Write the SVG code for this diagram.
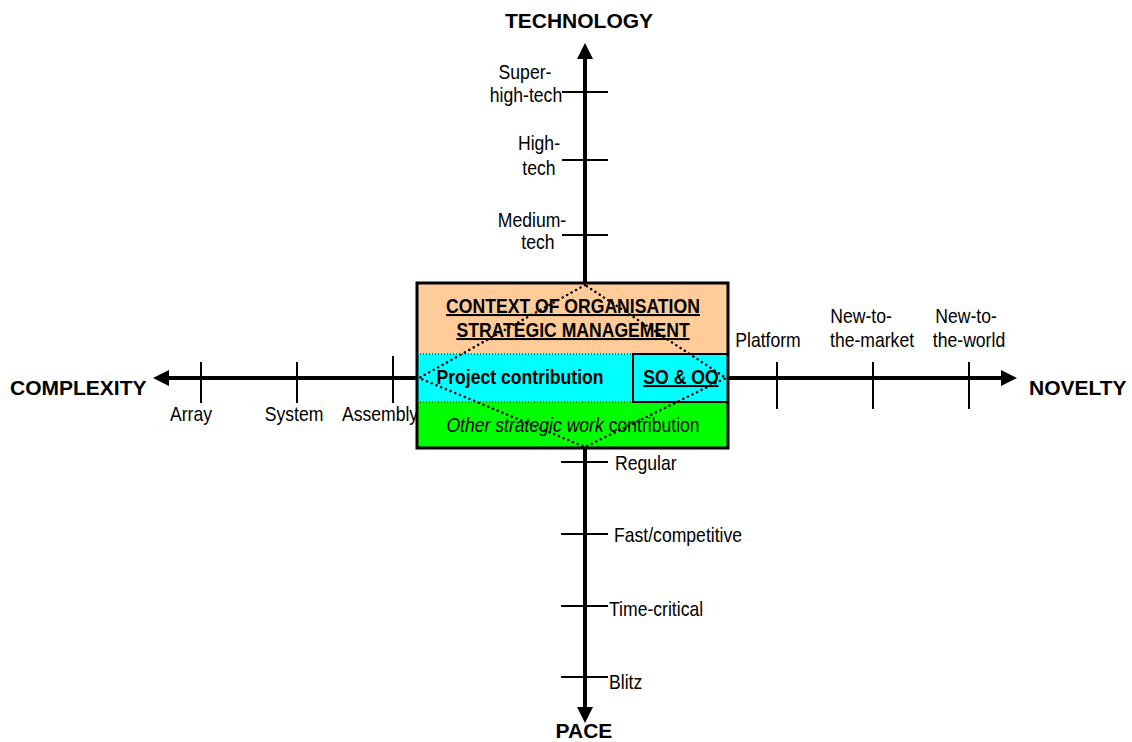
<svg xmlns="http://www.w3.org/2000/svg" width="1132" height="742" viewBox="0 0 1132 742">
<style>
text{font-family:"Liberation Sans",Arial,sans-serif;font-size:20px;fill:#000;transform-box:fill-box;transform-origin:0% 50%;transform:scaleX(0.88)}
.m{text-anchor:middle;transform-origin:50% 50%}
.b{font-weight:bold}
.ax{font-weight:bold;font-size:21px;transform:none}
.u{text-decoration:underline}
.axis{stroke:#000;stroke-width:4;fill:none}
.tick{stroke:#000;stroke-width:2;fill:none}
</style>
<defs>
<marker id="ah" viewBox="0 0 16 16" markerWidth="16" markerHeight="16" refX="6" refY="8" orient="auto" markerUnits="userSpaceOnUse">
<path d="M0,0 L16,8 L0,16 z" fill="#000"/>
</marker>
</defs>
<rect width="1132" height="742" fill="#fff"/>
<g id="connectors">
<line class="axis" x1="585" y1="283" x2="585" y2="53" marker-end="url(#ah)"/>
<line class="axis" x1="585" y1="448" x2="585" y2="713" marker-end="url(#ah)"/>
<line class="axis" x1="417" y1="378" x2="163" y2="378" marker-end="url(#ah)"/>
<line class="axis" x1="728" y1="378" x2="1007" y2="378" marker-end="url(#ah)"/>
<g class="tick">
<line x1="562" y1="92" x2="608" y2="92"/>
<line x1="562" y1="160" x2="608" y2="160"/>
<line x1="562" y1="235" x2="608" y2="235"/>
<line x1="561" y1="462" x2="608" y2="462"/>
<line x1="561" y1="534" x2="608" y2="534"/>
<line x1="561" y1="606" x2="608" y2="606"/>
<line x1="561" y1="677" x2="608" y2="677"/>
<line x1="201" y1="362" x2="201" y2="403"/>
<line x1="297" y1="362" x2="297" y2="403"/>
<line x1="393" y1="356" x2="393" y2="403"/>
<line x1="777" y1="362" x2="777" y2="409"/>
<line x1="873" y1="362" x2="873" y2="409"/>
<line x1="969" y1="362" x2="969" y2="409"/>
</g>
</g>
<g id="axis-labels">
<text class="ax m" x="579" y="28">TECHNOLOGY</text>
<text class="ax" x="10" y="395">COMPLEXITY</text>
<text class="ax" x="1029" y="395">NOVELTY</text>
<text class="ax m" x="584" y="738">PACE</text>
</g>
<g id="tech-labels">
<text class="m" x="525" y="79">Super-</text>
<text class="m" x="526" y="102">high-tech</text>
<text class="m" x="539" y="150">High-</text>
<text class="m" x="539" y="175">tech</text>
<text class="m" x="532" y="227">Medium-</text>
<text class="m" x="538" y="249">tech</text>
</g>
<g id="complexity-labels">
<text class="m" x="191" y="421">Array</text>
<text class="m" x="294" y="421">System</text>
<text class="m" x="380" y="421">Assembly</text>
</g>
<g id="novelty-labels">
<text class="m" x="768" y="347">Platform</text>
<text class="m" x="861" y="323">New-to-</text>
<text class="m" x="872" y="347">the-market</text>
<text class="m" x="966" y="323">New-to-</text>
<text class="m" x="969" y="347">the-world</text>
</g>
<g id="pace-labels">
<text x="615" y="470">Regular</text>
<text x="614" y="542">Fast/competitive</text>
<text x="609" y="616">Time-critical</text>
<text x="609" y="689">Blitz</text>
</g>
<g id="context-box">
<rect x="417" y="283" width="311" height="71" fill="#FFCC99"/>
<rect x="417" y="354" width="311" height="48" fill="#00FFFF"/>
<rect x="417" y="402" width="311" height="46" fill="#00FF00"/>
<line x1="417" y1="354" x2="633" y2="354" stroke="#000" stroke-width="1" stroke-dasharray="1,2"/>
<line x1="417" y1="402" x2="633" y2="402" stroke="#000" stroke-width="1" stroke-dasharray="1,2"/>
<rect x="633" y="354" width="95" height="48" fill="none" stroke="#000" stroke-width="2"/>
<text class="b u m" x="573" y="313">CONTEXT OF ORGANISATION</text>
<text class="b u m" x="573" y="337">STRATEGIC MANAGEMENT</text>
<text class="b m" x="520" y="384">Project contribution</text>
<text class="b u m" x="681" y="384">SO &amp; OO</text>
<text class="m" x="573" y="432"><tspan font-style="italic">Other strategic work</tspan> contribution</text>
<path d="M585,285 L419,378 L585,447 L726,378 Z" fill="none" stroke="#000" stroke-width="2.5" stroke-dasharray="0.1,5" stroke-linecap="round"/>
<rect x="417" y="283" width="311" height="165" fill="none" stroke="#000" stroke-width="3"/>
</g>
</svg>
